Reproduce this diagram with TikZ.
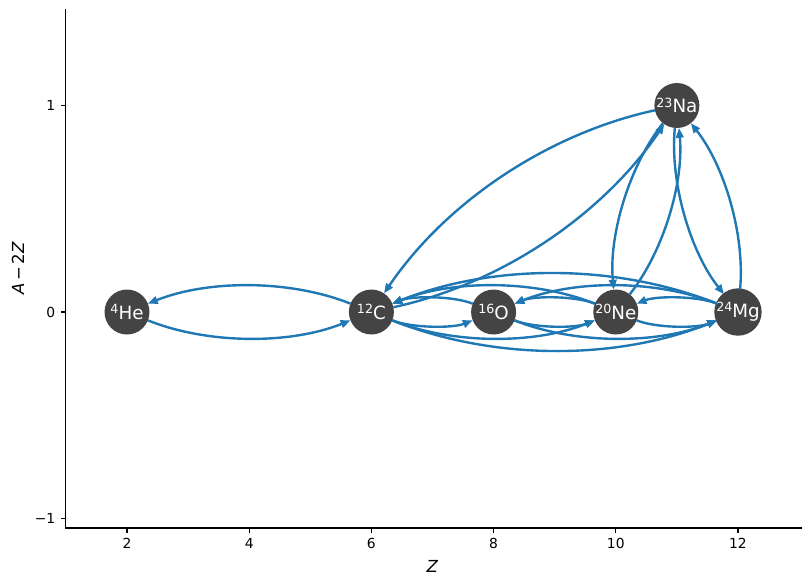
\documentclass[tikz,border=0pt]{standalone}
\usepackage{fontspec}
\setmainfont{DejaVu Sans}
\usetikzlibrary{arrows.meta,positioning}
\usepackage{xcolor}
\definecolor{rateblue}{HTML}{1F77B4}
\definecolor{nucgray}{HTML}{444444}
\newcommand{\nuc}[2]{\raisebox{4pt}{\fontsize{9}{9}\selectfont #1}#2}

\begin{document}
\begin{tikzpicture}[x=1.5275cm,y=5.1625cm]
	% Fix the page to the size of the figure.
	\useasboundingbox (-0.0786,-1.322) rectangle (13.195,1.511);

	\tikzstyle{nucleus}=[circle,fill=nucgray,text=white,minimum size=32pt,inner sep=0pt,font=\fontsize{13}{15}\selectfont]
	% Links run centre to centre and are cut back to the rim of each disc.
	\tikzstyle{rate}=[draw=rateblue,line width=1.7pt,-{Triangle[length=7pt,width=5.4pt]},bend right=21.8,looseness=0.917,shorten >=16pt,shorten <=16pt]
	\tikzstyle{tick text}=[inner sep=3.4pt,font=\fontsize{9.85}{12}\selectfont]

	% Draw the left and bottom spines.
	\draw [line width=0.8pt] (0.993,1.467) -- (0.993,-1.046) -- (13.05,-1.046);

	% Ticks and their labels.
	\foreach \z in {2,4,...,12}
		\draw [line width=0.8pt] (\z,-1.046) -- ++(0pt,-3.45pt) node [below, style=tick text] {\z};
	\foreach \y/\ylab in {-1/−1,0/0,1/1}
		\draw [line width=0.8pt] (0.993,\y) -- ++(-3.45pt,0pt) node [left, style=tick text] {\ylab};

	% Axis labels.
	\node (zlabel) at (7,-1.230) [font=\fontsize{11.8}{14}\selectfont] {\textit{Z}};
	\node (nlabel) at (0.216,0.211) [rotate=90,font=\fontsize{11.8}{14}\selectfont] {\textit{A}\,−\,2\textit{Z}};

	% The nuclei.
	\node (he4) at (2,0) [nucleus] {\nuc{4}{He}};
	\node (c12) at (6,0) [nucleus] {\nuc{12}{C}};
	\node (o16) at (8,0) [nucleus] {\nuc{16}{O}};
	\node (ne20) at (10,0) [nucleus] {\nuc{20}{Ne}};
	\node (na23) at (11,1) [nucleus] {\nuc{23}{Na}};
	\node (mg24) at (12,0) [nucleus] {\nuc{24}{Mg}};

	% Links from reactant to product, one for each rate.
	\foreach \from/\to in {he4/c12,c12/he4,c12/o16,o16/c12,c12/ne20,ne20/c12,
		c12/mg24,mg24/c12,c12/na23,na23/c12,o16/ne20,ne20/o16,o16/mg24,mg24/o16,
		ne20/mg24,mg24/ne20,ne20/na23,na23/ne20,na23/mg24,mg24/na23}
		\draw [rate] (\from.center) to (\to.center);
\end{tikzpicture}
\end{document}
